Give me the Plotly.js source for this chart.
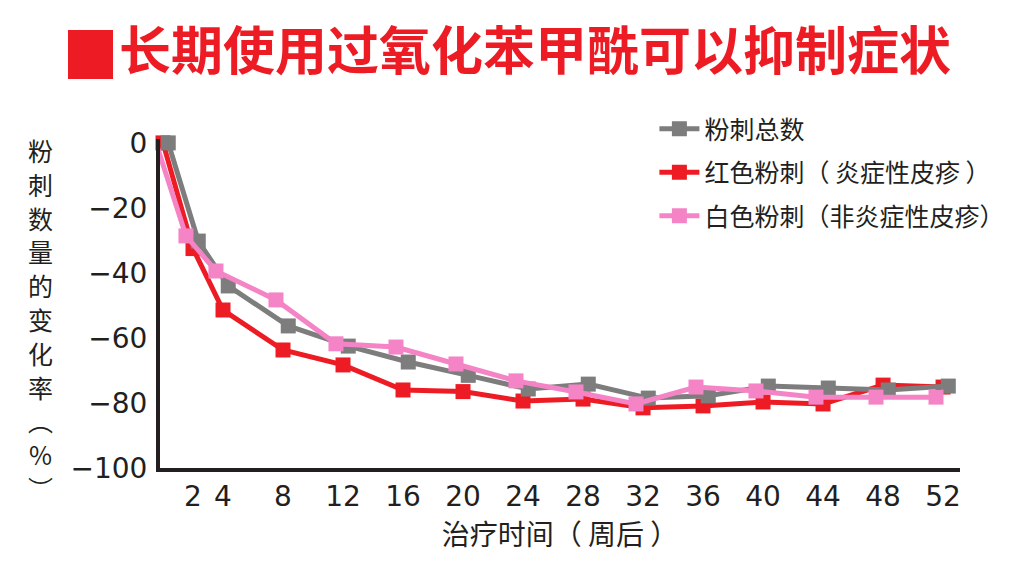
<!DOCTYPE html>
<html>
<head>
<meta charset="utf-8">
<script src="https://cdn.plot.ly/plotly-3.0.1.min.js"></script>
<style>html,body{margin:0;padding:0;background:#fff;}#chart{width:1012px;height:569px;}</style>
</head>
<body>
<div id="chart"></div>
<script>
// ---- data ----
const weeks = [0, 2, 4, 8, 12, 16, 20, 24, 28, 32, 36, 40, 44, 48, 52];
const totalAcne = [0, -30.2, -44, -56.3, -62.5, -67.4, -71.5, -75.7, -74.2, -78.5, -77.8, -74.8, -75.4, -76, -74.8];
const redAcne   = [0, -32.5, -51.4, -63.7, -68.3, -76, -76.5, -79.4, -78.8, -81.5, -80.9, -79.7, -80.3, -74.5, -75.1];
const whiteAcne = [0, -28.6, -39.4, -48.3, -61.8, -62.8, -68, -73.2, -76.6, -80.3, -75.1, -76.3, -78.2, -78.2, -78.2];
const xTickVals = [2, 4, 8, 12, 16, 20, 24, 28, 32, 36, 40, 44, 48, 52];
const yTickVals = [0, -20, -40, -60, -80, -100];
const yTickText = ['0', '\u221220', '\u221240', '\u221260', '\u221280', '\u2212100'];
const seriesNames = ['粉刺总数', '红色粉刺（ 炎症性皮疹 ）', '白色粉刺（非炎症性皮疹）'];
const titleText = '长期使用过氧化苯甲酰可以抑制症状';
const xTitle = '治疗时间（ 周后 ）';
const yTitleChars = ['粉','刺','数','量','的','变','化','率','︵','%','︶'];

// ---- style ----
const GRAY = '#7d7d7d', RED = '#ed1c24', PINK = '#f484c6', INK = '#231f20';
const CJK = '"Noto Sans CJK SC", "Noto Sans", sans-serif';
const NUM = '"DejaVu Sans", sans-serif';
const xr = [-0.2, 53.13];
const PLOT_TOP = 139, PLOT_BOTTOM = 468, PLOT_LEFT = 160, PLOT_RIGHT = 960;
const PH = PLOT_BOTTOM - PLOT_TOP, PW = PLOT_RIGHT - PLOT_LEFT;
const py = p => (PLOT_BOTTOM - p) / PH;   // pixel row -> paper y
const px = p => (p - PLOT_LEFT) / PW;     // pixel col -> paper x

function trace(name, y, color, xaxis, rank, group) {
  return {
    type: 'scatter', mode: 'lines+markers', name: name,
    x: weeks, y: y, xaxis: xaxis, yaxis: 'y',
    line: {color: color, width: 5},
    marker: {symbol: 'square', size: 15, color: color},
    cliponaxis: false, legendrank: rank, legendgroup: group
  };
}

const data = [
  trace(seriesNames[1], redAcne, RED, 'x', 2, 'b'),
  trace(seriesNames[2], whiteAcne, PINK, 'x3', 3, 'c'),
  trace(seriesNames[0], totalAcne, GRAY, 'x2', 1, 'a')
];

const yTitleAnnotations = yTitleChars.map((ch, i) => ({
  text: ch, xref: 'paper', yref: 'paper',
  x: px(40), y: py(150 + i * 33.8), xanchor: 'center', yanchor: 'middle',
  showarrow: false, font: {family: CJK, size: 25, color: INK}
}));

const layout = {
  width: 1012, height: 569,
  margin: {l: PLOT_LEFT, r: 1012 - PLOT_RIGHT, t: PLOT_TOP, b: 569 - PLOT_BOTTOM, autoexpand: false},
  paper_bgcolor: '#fff', plot_bgcolor: '#fff',
  showlegend: true,
  title: {
    text: titleText, xref: 'container', x: 119 / 1012, xanchor: 'left',
    y: 1 - 52 / 569, yanchor: 'middle',
    font: {family: CJK, size: 52, color: RED, weight: 'bold'}
  },
  shapes: [{
    type: 'rect', xref: 'paper', yref: 'paper',
    x0: px(68), x1: px(113), y0: py(79), y1: py(30),
    fillcolor: RED, line: {width: 0}
  }],
  xaxis: {
    range: xr, tickvals: xTickVals, ticks: '', showgrid: false, zeroline: false,
    showline: true, linecolor: INK, linewidth: 4,
    tickfont: {family: NUM, size: 28, color: INK}, ticklabelstandoff: 0,
    title: {text: xTitle, font: {family: CJK, size: 28, color: INK}, standoff: 12}
  },
  xaxis2: {range: [xr[0] - 0.35, xr[1] - 0.35], overlaying: 'x', visible: false},
  xaxis3: {range: [xr[0] + 0.47, xr[1] + 0.47], overlaying: 'x', visible: false},
  yaxis: {
    range: [-100, 1.2], tickvals: yTickVals, ticktext: yTickText, ticks: '',
    showgrid: false, zeroline: false, showline: true, linecolor: INK, linewidth: 4,
    tickfont: {family: NUM, size: 28, color: INK}, ticklabelstandoff: 3
  },
  legend: {
    x: 0.618, xanchor: 'left', y: 1.1, yanchor: 'top',
    font: {family: CJK, size: 25, color: INK},
    bgcolor: 'rgba(0,0,0,0)', tracegroupgap: 8, itemwidth: 40
  },
  annotations: yTitleAnnotations
};

Plotly.newPlot('chart', data, layout, {displayModeBar: false, staticPlot: true});
</script>
</body>
</html>
